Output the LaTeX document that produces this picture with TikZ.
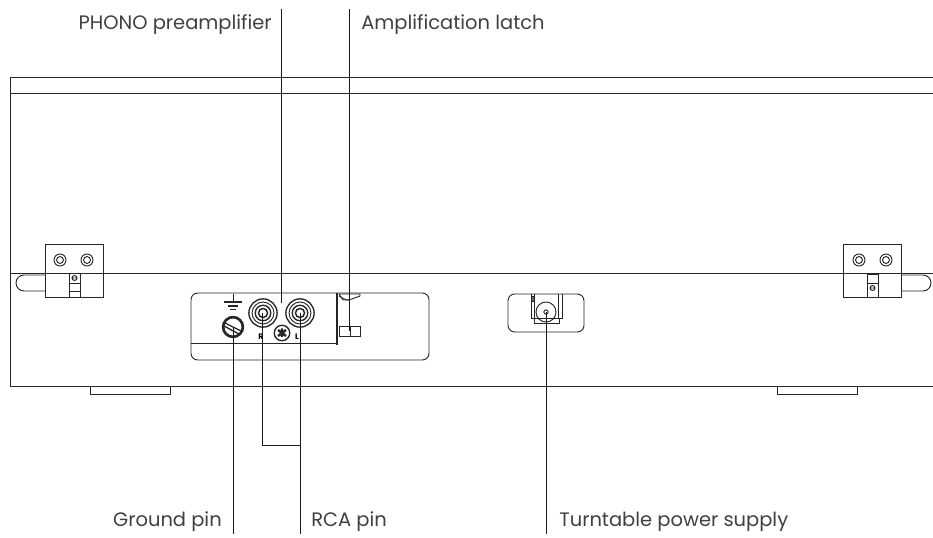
\documentclass[tikz,border=0pt]{standalone}
\usepackage{fontspec}
\setmainfont{Poppins}
\tikzset{
    thinline/.style={draw=black!85,line width=0.7pt},
    boldline/.style={draw=black!85,line width=1.6pt},
    leader/.style={draw=black!90,line width=0.7pt},
    callout/.style={inner sep=0pt,font=\fontsize{14.6pt}{16pt}\selectfont,text=black!75},
    tinymark/.style={inner sep=0pt,font=\fontsize{6pt}{6pt}\selectfont\bfseries},
}
\begin{document}
\begin{tikzpicture}[x=0.75pt,y=-0.75pt]
    \useasboundingbox (0,0) rectangle (933,538);
    \pgfmathsetmacro{\toprow}{9}
    \pgfmathsetmacro{\botrow}{534}
    % body of the unit
    \draw[thinline] (933,77) -- (10.5,77) -- (10.5,386) -- (933,386);
    \draw[thinline] (10.5,93) -- (933,93);
    \draw[thinline] (10.5,273) -- (933,273);
    \draw[thinline] (90,386) -- (90,394) -- (170,394) -- (170,386);
    \draw[thinline] (777,386) -- (777,394) -- (857,394) -- (857,386);
    % left hinge
    \draw[thinline,fill=white] (45,244) rectangle (103,297);
    \draw[thinline] (45,273) -- (103,273);
    \draw[thinline,rounded corners=6pt] (45,275) -- (16,275) -- (16,291) -- (45,291);
    \draw[thinline] (69,273) rectangle (80,297);
    \draw[thinline] (69,283) -- (80,283) (69,291) -- (80,291);
    \draw[thinline] (74.5,278) circle (2.5) (72,278) -- (77,278);
    % right hinge
    \draw[thinline,fill=white] (843,244) rectangle (901,297);
    \draw[thinline] (843,273) -- (901,273);
    \draw[thinline,rounded corners=6pt] (901,275) -- (931,275) -- (931,291) -- (901,291);
    \draw[thinline] (867,274) rectangle (878,297);
    \draw[thinline] (867,283) -- (878,283);
    \draw[thinline] (872.5,288) circle (2.5) (870,288) -- (875,288);
    \foreach \hingex in {60,87,859,886} {
        \draw[thinline] (\hingex,260) circle (4.5pt);
        \draw[thinline] (\hingex,260) circle (2.6pt);
    }
    % input panel
    \draw[thinline,rounded corners=5pt] (191,293) rectangle (429,360);
    \draw[thinline] (191,343) -- (337,343);
    \draw[boldline,line width=1.4pt] (337,293) -- (337,345);
    % ground symbol
    \draw[thinline] (233,294) -- (233,302);
    \draw[thinline,line width=1pt] (224,302) -- (242,302) (228,306) -- (238,306) (230,309.5) -- (236,309.5);
    % ground screw
    \draw[boldline,line width=2pt] (233,327) circle (7.4pt);
    \draw[thinline,line width=1pt] (225,323) -- (241,331) (224,326) -- (239,334);
    % jacks
    \foreach \jackx in {263,300} {
        \draw[boldline,line width=1pt] (\jackx,313) circle (10.6pt);
        \draw[thinline] (\jackx,313) circle (8.2pt);
        \draw[thinline,line width=1pt] (\jackx,313) circle (5.8pt);
        \draw[boldline,line width=1.1pt] (\jackx,313) circle (3.4pt);
    }
    \node[tinymark] (markr) at (261,337) {R};
    \node[tinymark] (markl) at (297,337) {L};
    % cover screw
    \draw[thinline,line width=1pt] (282,333) circle (5.8pt);
    \draw[boldline,line width=1.8pt] (278,330) -- (286,336) (286,330) -- (278,336) (282,328.5) -- (282,337);
    % amplification latch
    \draw[thinline] (339,326) rectangle (360,336);
    \draw[thinline] (350,326) -- (350,336);
    \draw[thinline] (339,294) -- (360,294) -- (360,296) -- (349,300) -- (343,300) -- (339,294);
    \draw[thinline] (339,296) .. controls (342,298) and (345,300) .. (349,300);
    % power socket
    \draw[thinline,rounded corners=5pt] (508,294) rectangle (584,332);
    \draw[thinline] (531,294) -- (531,318) -- (534,318) -- (534,323) -- (559,323) -- (559,318) -- (562,318) -- (562,294);
    \draw[thinline] (534,294) -- (534,318) -- (558,318) -- (558,294);
    \draw[thinline,fill=black!60] (531,296) rectangle (534,301);
    \draw[thinline] (546,312) circle (7.5pt);
    \draw[thinline] (546,312) circle (1.6pt);
    % ends of the leaders
    \coordinate (phonotop) at (281.5,\toprow);
    \coordinate (phonoend) at (281.5,303);
    \coordinate (latchtop) at (349,\toprow);
    \coordinate (latchend) at (349,331);
    \coordinate (groundend) at (233,327);
    \coordinate (groundbot) at (233,\botrow);
    \coordinate (jackr) at (262,313);
    \coordinate (jackl) at (300.5,313);
    \coordinate (rcabot) at (300.5,\botrow);
    \coordinate (rcajoin) at (300.5,445);
    \coordinate (powerend) at (546,312);
    \coordinate (powerbot) at (546,\botrow);
    \draw[leader] (phonotop) -- (phonoend);
    \draw[leader] (latchtop) -- (latchend);
    \draw[leader] (groundend) -- (groundbot);
    \draw[leader] (jackl) -- (rcabot);
    \draw[leader] (jackr) |- (rcajoin);
    \draw[leader] (powerend) -- (powerbot);
    % labels
    \node[callout,anchor=base east] (phono) at (272,30) {PHONO preamplifier};
    \node[callout,anchor=base west] (latch) at (361,30) {Amplification latch};
    \node[callout,anchor=base east] (ground) at (222,527) {Ground pin};
    \node[callout,anchor=base west] (rca) at (311,527) {RCA pin};
    \node[callout,anchor=base west] (power) at (559,527) {Turntable power supply};
\end{tikzpicture}
\end{document}
